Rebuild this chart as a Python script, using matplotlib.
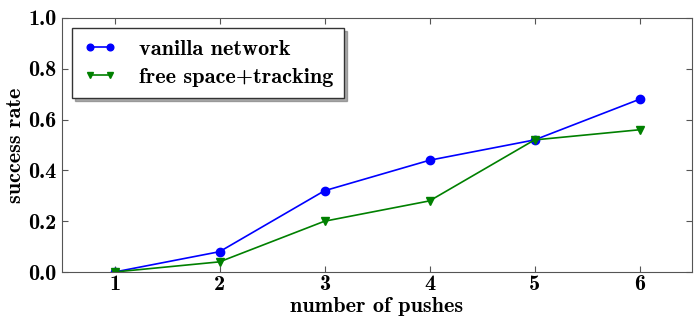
import matplotlib
matplotlib.use('Agg')
import matplotlib.pyplot as plt

pushes = [1, 2, 3, 4, 5, 6]
vanilla = [0.0, 0.08, 0.32, 0.44, 0.52, 0.68]
free_space = [0.0, 0.04, 0.20, 0.28, 0.52, 0.56]
yticks = [0.0, 0.2, 0.4, 0.6, 0.8, 1.0]

plt.rcParams['font.family'] = ['cmb10', 'DejaVu Serif']
plt.rcParams['axes.formatter.use_mathtext'] = True
plt.rcParams['font.size'] = 16

fig = plt.figure(figsize=(7, 3.26), dpi=100)
ax = fig.add_axes([0.0886, 0.1656, 0.9, 0.7792])

ax.plot(pushes, vanilla, color='blue', marker='o', markersize=6, lw=1.2, label='vanilla network')
ax.plot(pushes, free_space, color='green', marker='v', markersize=6, lw=1.2, label='free space+tracking')

ax.set_xlim(0.5, 6.5)
ax.set_ylim(0, 1)
ax.set_xticks(pushes)
ax.set_yticks(yticks)
ax.set_yticklabels(['%.1f' % v for v in yticks])
ax.set_xticklabels([str(p) for p in pushes])
ax.tick_params(direction='in', length=4, color='#555555', top=True, right=True, pad=4)
ax.tick_params(axis='x', pad=2)
for s in ax.spines.values():
    s.set_color('#555555')
ax.set_xlabel('number of pushes', labelpad=2.5)
ax.set_ylabel('success rate', labelpad=2)

leg = ax.legend(loc='upper left', shadow={'color': '0.45', 'alpha': 0.6}, fancybox=False,
                borderpad=0.5, numpoints=2, markerscale=0.8,
                handlelength=1.5, handletextpad=1.0, labelspacing=0.4,
                borderaxespad=0.45)
leg.get_frame().set_edgecolor('#333333')

fig.savefig('out.png', dpi=100)
